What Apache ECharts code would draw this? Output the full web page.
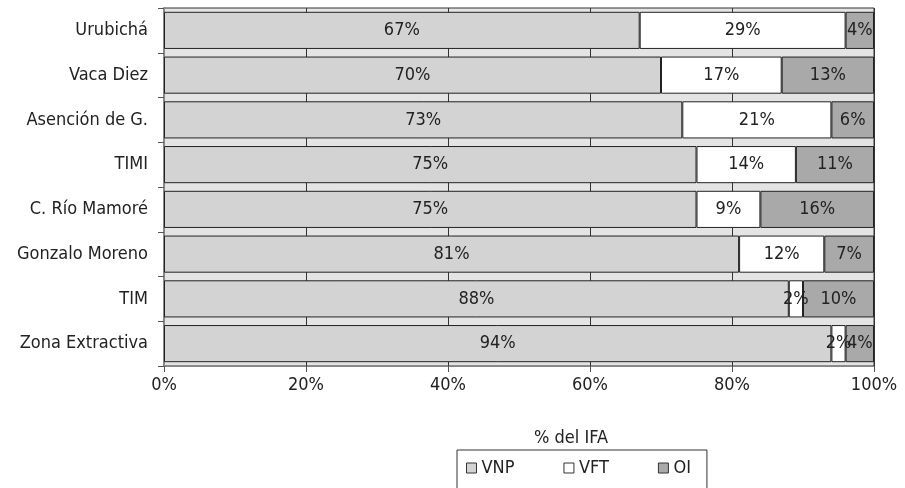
<!DOCTYPE html>
<html><head><meta charset="utf-8">
<script src="https://cdn.jsdelivr.net/npm/echarts@6/dist/echarts.min.js"></script>
<style>html,body{margin:0;padding:0;background:#fff}#c{width:905px;height:488px}</style>
</head><body><div id="c"></div>
<script>
const categories = ['Urubichá','Vaca Diez','Asención de G.','TIMI','C. Río Mamoré','Gonzalo Moreno','TIM','Zona Extractiva'];
const vnp = [67,70,73,75,75,81,88,94];
const vft = [29,17,21,14,9,12,2,2];
const oi  = [4,13,6,11,16,7,10,4];
const seriesNames = ['VNP','VFT','OI'];
const xTicks = [0,20,40,60,80,100];

const FONT = '"DejaVu Sans Condensed","Liberation Sans Narrow","Liberation Sans",sans-serif';
const colors = ['#d3d3d3','#ffffff','#a9a9a9'];
const chart = echarts.init(document.getElementById('c'));
const mk = (name, data, color) => ({
  name, type:'bar', stack:'s', data, barWidth:'83%',
  itemStyle:{color, borderColor:'#222', borderWidth:1},
  label:{show:true, position:'inside', formatter:'{c}%', color:'#222', fontSize:18, fontFamily:FONT},
  z:3
});
chart.setOption({
  animation:false,
  textStyle:{fontFamily:FONT},
  title:{text:'% del IFA', left:566, top:424, textAlign:'center',
    textStyle:{fontSize:18, fontWeight:'normal', color:'#222', fontFamily:FONT}},
  legend:{data:seriesNames, left:457, top:450, height:40,
    padding:[9,16,20,9], itemGap:49, borderColor:'#333', borderWidth:1,
    icon:'rect', itemWidth:10, itemHeight:10,
    itemStyle:{borderColor:'#333', borderWidth:1},
    textStyle:{fontSize:18, color:'#222', fontFamily:FONT, padding:[0,0,0,0]}},
  grid:{left:164, right:31, top:8, bottom:122, show:true, backgroundColor:'#e4e4e4', borderColor:'#333', borderWidth:1},
  xAxis:{type:'value', min:0, max:100, interval:20,
    axisLabel:{formatter:v=>xTicks.includes(v)?v+'%':'', fontSize:18, color:'#222', margin:10, fontFamily:FONT},
    axisTick:{show:true, length:6, lineStyle:{color:'#555'}},
    axisLine:{show:true, lineStyle:{color:'#888'}},
    splitLine:{show:true, lineStyle:{color:'#333', width:1}}},
  yAxis:{type:'category', data:categories, inverse:true,
    axisLabel:{fontSize:18, color:'#222', margin:16, fontFamily:FONT},
    axisTick:{show:true, length:6, lineStyle:{color:'#555'}},
    axisLine:{show:true, lineStyle:{color:'#888', width:2}}},
  series:[mk('VNP',vnp,colors[0]), mk('VFT',vft,colors[1]), mk('OI',oi,colors[2])]
});
</script></body></html>
